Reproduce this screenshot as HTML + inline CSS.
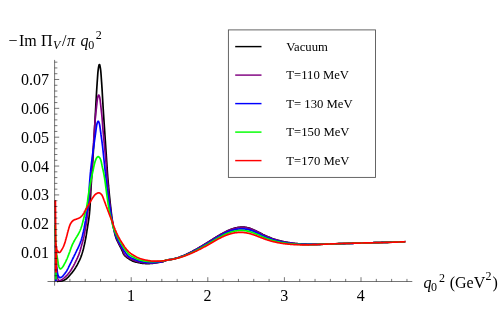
<!DOCTYPE html>
<html><head><meta charset="utf-8"><title>plot</title>
<style>
html,body{margin:0;padding:0;background:#fff;}
body{width:498px;height:312px;position:relative;overflow:hidden;font-family:"Liberation Serif",serif;color:#000;}
svg{position:absolute;left:0;top:0;}
.t{position:absolute;white-space:nowrap;line-height:1;font-size:16px;}
.yl{width:49.1px;text-align:right;left:0;}
.xl{width:20px;text-align:center;}
.lg{font-size:12.7px;left:286.3px;}
.i{font-style:italic;}

</style></head><body>
<svg width="498" height="312" viewBox="0 0 498 312">
<g fill="none" stroke-width="1.7" stroke-linejoin="bevel" stroke-linecap="butt">
<path stroke="#000000" d="M57.00 281.30L57.79 281.28L58.59 281.26L59.39 281.23L60.19 281.19L60.99 281.11L61.79 280.98L62.56 280.81L63.31 280.56L64.05 280.23L64.76 279.86L65.45 279.45L66.11 279.00L66.73 278.51L67.32 277.98L67.88 277.41L68.43 276.82L68.96 276.21L69.49 275.61L70.02 275.01L70.54 274.41L71.07 273.80L71.58 273.19L72.09 272.58L72.58 271.95L73.07 271.32L73.54 270.67L74.01 270.02L74.46 269.36L74.90 268.70L75.33 268.03L75.75 267.35L76.16 266.66L76.57 265.97L76.96 265.28L77.35 264.58L77.72 263.87L78.09 263.16L78.45 262.44L78.79 261.72L79.13 261.00L79.46 260.28L79.79 259.55L80.11 258.81L80.42 258.07L80.72 257.33L81.01 256.59L81.29 255.84L81.57 255.09L81.83 254.33L82.08 253.58L82.31 252.82L82.54 252.05L82.76 251.28L82.97 250.51L83.18 249.74L83.38 248.97L83.57 248.19L83.76 247.41L83.94 246.63L84.12 245.85L84.29 245.07L84.47 244.29L84.64 243.51L84.81 242.73L84.97 241.95L85.14 241.17L85.29 240.39L85.45 239.60L85.60 238.82L85.75 238.03L85.89 237.25L86.03 236.46L86.17 235.67L86.30 234.89L86.42 234.10L86.55 233.31L86.67 232.52L86.80 231.73L86.92 230.94L87.04 230.15L87.16 229.36L87.29 228.57L87.42 227.78L87.54 227.00L87.67 226.21L87.80 225.42L87.93 224.63L88.06 223.84L88.19 223.05L88.31 222.27L88.43 221.48L88.55 220.69L88.66 219.89L88.77 219.10L88.88 218.31L88.99 217.52L89.09 216.73L89.19 215.93L89.28 215.14L89.37 214.35L89.44 213.55L89.52 212.76L89.59 211.96L89.66 211.17L89.72 210.37L89.79 209.58L89.85 208.78L89.90 207.99L89.96 207.19L90.01 206.39L90.06 205.59L90.11 204.80L90.16 204.00L90.21 203.20L90.25 202.40L90.29 201.61L90.34 200.81L90.38 200.01L90.42 199.21L90.46 198.41L90.50 197.62L90.54 196.82L90.58 196.02L90.62 195.22L90.66 194.42L90.70 193.63L90.75 192.83L90.79 192.03L90.83 191.23L90.88 190.43L90.92 189.64L90.97 188.84L91.01 188.04L91.06 187.24L91.11 186.45L91.16 185.65L91.21 184.85L91.26 184.05L91.31 183.26L91.36 182.46L91.41 181.66L91.46 180.86L91.51 180.07L91.56 179.27L91.61 178.47L91.67 177.68L91.72 176.88L91.77 176.08L91.83 175.28L91.88 174.49L91.93 173.69L91.98 172.89L92.04 172.10L92.09 171.30L92.14 170.50L92.20 169.71L92.25 168.91L92.30 168.11L92.36 167.32L92.41 166.52L92.46 165.72L92.51 164.92L92.56 164.13L92.62 163.33L92.67 162.53L92.72 161.74L92.77 160.94L92.82 160.14L92.87 159.35L92.92 158.55L92.97 157.75L93.02 156.96L93.06 156.16L93.11 155.36L93.16 154.57L93.21 153.77L93.25 152.97L93.30 152.17L93.35 151.38L93.39 150.58L93.44 149.78L93.48 148.99L93.53 148.19L93.57 147.39L93.62 146.60L93.66 145.80L93.71 145.00L93.75 144.20L93.80 143.41L93.84 142.61L93.89 141.81L93.93 141.01L93.97 140.22L94.02 139.42L94.06 138.62L94.10 137.82L94.15 137.02L94.19 136.23L94.23 135.43L94.28 134.63L94.32 133.83L94.36 133.03L94.41 132.24L94.45 131.44L94.49 130.64L94.53 129.84L94.58 129.04L94.62 128.24L94.66 127.44L94.71 126.64L94.75 125.84L94.79 125.05L94.83 124.25L94.87 123.45L94.92 122.65L94.96 121.85L95.00 121.05L95.04 120.25L95.09 119.45L95.13 118.65L95.17 117.85L95.21 117.05L95.25 116.26L95.30 115.46L95.34 114.66L95.38 113.86L95.42 113.06L95.46 112.26L95.51 111.47L95.55 110.67L95.59 109.87L95.63 109.07L95.67 108.28L95.72 107.48L95.76 106.68L95.80 105.89L95.84 105.09L95.89 104.30L95.93 103.50L95.97 102.71L96.02 101.91L96.06 101.12L96.10 100.33L96.15 99.53L96.19 98.74L96.23 97.95L96.28 97.15L96.32 96.36L96.36 95.57L96.41 94.77L96.45 93.98L96.50 93.18L96.55 92.38L96.59 91.59L96.64 90.78L96.69 89.98L96.74 89.18L96.79 88.37L96.84 87.56L96.89 86.75L96.95 85.94L97.00 85.13L97.06 84.32L97.11 83.50L97.17 82.70L97.22 81.89L97.28 81.09L97.33 80.29L97.39 79.50L97.45 78.71L97.50 77.93L97.56 77.16L97.61 76.39L97.67 75.64L97.72 74.89L97.77 74.14L97.83 73.39L97.89 72.63L97.96 71.86L98.04 71.07L98.13 70.25L98.24 69.41L98.36 68.53L98.50 67.60L98.68 66.58L98.89 65.59L99.12 64.81L99.35 64.42L99.57 64.56L99.79 65.16L100.01 66.07L100.21 67.10L100.37 68.08L100.50 68.97L100.62 69.83L100.72 70.66L100.80 71.47L100.87 72.25L100.94 73.01L101.00 73.77L101.05 74.52L101.11 75.26L101.16 76.02L101.22 76.77L101.27 77.54L101.33 78.32L101.38 79.10L101.44 79.89L101.49 80.69L101.55 81.49L101.61 82.29L101.66 83.10L101.72 83.91L101.77 84.72L101.83 85.54L101.88 86.35L101.93 87.16L101.98 87.97L102.04 88.78L102.09 89.58L102.13 90.38L102.18 91.18L102.23 91.98L102.27 92.78L102.32 93.58L102.36 94.37L102.41 95.17L102.45 95.96L102.50 96.76L102.54 97.55L102.59 98.34L102.63 99.14L102.68 99.93L102.72 100.72L102.77 101.52L102.82 102.31L102.86 103.11L102.91 103.91L102.96 104.70L103.01 105.50L103.05 106.30L103.10 107.10L103.15 107.89L103.20 108.69L103.25 109.49L103.30 110.29L103.35 111.09L103.40 111.88L103.45 112.68L103.50 113.48L103.55 114.28L103.61 115.08L103.66 115.88L103.71 116.67L103.76 117.47L103.81 118.27L103.87 119.07L103.92 119.86L103.97 120.66L104.03 121.46L104.08 122.25L104.13 123.05L104.19 123.85L104.24 124.64L104.29 125.44L104.35 126.24L104.40 127.03L104.45 127.83L104.51 128.63L104.56 129.42L104.61 130.22L104.67 131.02L104.72 131.81L104.77 132.61L104.83 133.41L104.88 134.20L104.93 135.00L104.99 135.80L105.04 136.60L105.09 137.39L105.15 138.19L105.20 138.99L105.25 139.78L105.30 140.58L105.36 141.38L105.41 142.17L105.46 142.97L105.52 143.77L105.57 144.57L105.62 145.36L105.68 146.16L105.73 146.96L105.78 147.75L105.84 148.55L105.89 149.35L105.94 150.14L106.00 150.94L106.05 151.74L106.10 152.54L106.16 153.33L106.21 154.13L106.26 154.93L106.32 155.72L106.37 156.52L106.42 157.32L106.48 158.11L106.53 158.91L106.58 159.71L106.63 160.51L106.68 161.30L106.74 162.10L106.79 162.90L106.84 163.69L106.89 164.49L106.94 165.29L106.99 166.09L107.04 166.88L107.09 167.68L107.15 168.48L107.20 169.27L107.25 170.07L107.31 170.87L107.36 171.66L107.42 172.46L107.47 173.26L107.53 174.05L107.59 174.85L107.65 175.65L107.71 176.44L107.77 177.24L107.84 178.04L107.90 178.83L107.97 179.63L108.04 180.42L108.10 181.22L108.17 182.02L108.24 182.81L108.31 183.61L108.38 184.40L108.45 185.20L108.53 185.99L108.60 186.79L108.67 187.58L108.75 188.38L108.82 189.18L108.90 189.97L108.97 190.77L109.05 191.56L109.13 192.36L109.20 193.15L109.28 193.95L109.36 194.74L109.44 195.54L109.52 196.33L109.60 197.12L109.68 197.92L109.77 198.71L109.85 199.51L109.93 200.30L110.02 201.10L110.10 201.89L110.18 202.69L110.27 203.48L110.36 204.27L110.44 205.07L110.53 205.86L110.62 206.66L110.71 207.45L110.80 208.24L110.89 209.04L110.98 209.83L111.07 210.62L111.17 211.42L111.26 212.21L111.36 213.00L111.45 213.80L111.55 214.59L111.65 215.38L111.76 216.17L111.86 216.97L111.97 217.76L112.08 218.55L112.20 219.34L112.32 220.13L112.44 220.92L112.57 221.70L112.71 222.49L112.84 223.28L112.98 224.06L113.12 224.85L113.27 225.64L113.41 226.42L113.56 227.21L113.71 227.99L113.85 228.78L114.00 229.57L114.14 230.35L114.29 231.14L114.44 231.93L114.60 232.71L114.77 233.50L114.94 234.27L115.14 235.05L115.35 235.81L115.57 236.57L115.83 237.33L116.10 238.08L116.39 238.82L116.70 239.56L117.03 240.29L117.36 241.02L117.70 241.75L118.05 242.47L118.39 243.19L118.75 243.91L119.11 244.62L119.49 245.32L119.86 246.03L120.23 246.73L120.61 247.44L120.97 248.15L121.34 248.86L121.69 249.58L122.02 250.31L122.35 251.04L122.65 251.80L122.94 252.56L123.25 253.30L123.60 254.02L123.99 254.68L124.45 255.30L124.97 255.88L125.55 256.43L126.17 256.95L126.82 257.45L127.49 257.93L128.17 258.38L128.84 258.83L129.52 259.27L130.20 259.70L130.90 260.11L131.60 260.50L132.31 260.86L133.04 261.18L133.77 261.46L134.52 261.70L135.29 261.91L136.07 262.10L136.86 262.27L137.65 262.43L138.43 262.59L139.22 262.74L140.01 262.90L140.79 263.04L141.58 263.18L142.37 263.30L143.16 263.39L143.95 263.45L144.75 263.51L145.55 263.55L146.35 263.58L147.15 263.60L147.95 263.60L148.75 263.59L149.55 263.56L150.34 263.52L151.14 263.46L151.94 263.39L152.73 263.32L153.52 263.23L154.32 263.13L155.11 263.01L155.90 262.89L156.69 262.76L157.48 262.63L158.27 262.51L159.06 262.40L159.85 262.27L160.64 262.14L161.42 261.98L162.20 261.81L162.96 261.59L163.72 261.33L164.46 261.03L165.21 260.72L165.95 260.42L166.70 260.16L167.47 259.95L168.25 259.79L169.04 259.67L169.83 259.57L170.63 259.46L171.42 259.34L172.20 259.19L172.98 259.02L173.76 258.83L174.53 258.62L175.30 258.41L176.07 258.19L176.83 257.96L177.59 257.72L178.35 257.47L179.11 257.21L179.86 256.95L180.61 256.67L181.36 256.39L182.10 256.10L182.85 255.80L183.58 255.50L184.32 255.18L185.05 254.86L185.78 254.54L186.51 254.21L187.23 253.87L187.96 253.53L188.67 253.18L189.39 252.83L190.11 252.47L190.82 252.11L191.53 251.75L192.24 251.38L192.94 251.00L193.65 250.62L194.35 250.24L195.05 249.86L195.75 249.47L196.44 249.08L197.14 248.68L197.83 248.29L198.52 247.89L199.21 247.49L199.90 247.08L200.59 246.67L201.27 246.27L201.96 245.86L202.64 245.44L203.33 245.03L204.01 244.62L204.69 244.20L205.37 243.78L206.05 243.36L206.73 242.94L207.41 242.52L208.09 242.10L208.77 241.68L209.45 241.26L210.12 240.83L210.80 240.41L211.48 239.99L212.16 239.57L212.83 239.14L213.51 238.72L214.19 238.30L214.87 237.88L215.55 237.46L216.23 237.04L216.91 236.63L217.60 236.21L218.28 235.80L218.97 235.39L219.66 234.99L220.35 234.59L221.04 234.19L221.74 233.80L222.44 233.42L223.14 233.03L223.85 232.66L224.55 232.29L225.27 231.93L225.98 231.57L226.70 231.23L227.42 230.89L228.15 230.56L228.89 230.24L229.62 229.93L230.36 229.63L231.11 229.35L231.86 229.08L232.62 228.82L233.38 228.57L234.14 228.34L234.91 228.13L235.69 227.94L236.47 227.76L237.25 227.59L238.04 227.45L238.83 227.34L239.62 227.26L240.42 227.21L241.22 227.17L242.02 227.14L242.82 227.14L243.62 227.15L244.41 227.21L245.21 227.30L246.00 227.43L246.79 227.57L247.57 227.74L248.34 227.93L249.11 228.15L249.87 228.40L250.63 228.66L251.38 228.94L252.12 229.23L252.86 229.53L253.59 229.85L254.32 230.18L255.05 230.51L255.77 230.85L256.49 231.20L257.21 231.55L257.92 231.90L258.64 232.26L259.35 232.62L260.07 232.98L260.78 233.34L261.49 233.70L262.21 234.05L262.92 234.41L263.64 234.76L264.36 235.10L265.08 235.44L265.81 235.78L266.54 236.11L267.27 236.43L268.00 236.75L268.74 237.05L269.48 237.35L270.22 237.65L270.97 237.93L271.72 238.21L272.47 238.48L273.22 238.74L273.98 239.00L274.74 239.25L275.50 239.49L276.26 239.73L277.03 239.96L277.80 240.18L278.56 240.39L279.34 240.60L280.11 240.80L280.88 241.00L281.66 241.19L282.44 241.37L283.22 241.54L284.00 241.71L284.78 241.87L285.56 242.03L286.35 242.18L287.14 242.32L287.92 242.46L288.71 242.59L289.50 242.71L290.29 242.83L291.08 242.95L291.87 243.06L292.66 243.16L293.46 243.26L294.25 243.35L295.04 243.44L295.84 243.52L296.63 243.60L297.43 243.67L298.22 243.74L299.02 243.81L299.82 243.87L300.61 243.93L301.41 243.98L302.21 244.03L303.00 244.07L303.80 244.11L304.60 244.15L305.40 244.18L306.20 244.21L306.99 244.24L307.79 244.26L308.59 244.28L309.39 244.30L310.19 244.31L310.99 244.32L311.79 244.33L312.58 244.33L313.38 244.33L314.18 244.33L314.98 244.33L315.78 244.33L316.58 244.33L317.38 244.32L318.18 244.31L318.97 244.29L319.77 244.28L320.57 244.27L321.37 244.25L322.17 244.23L322.97 244.21L323.77 244.19L324.56 244.17L325.36 244.15L326.16 244.12L326.96 244.10L327.76 244.08L328.56 244.05L329.35 244.03L330.15 244.00L330.95 243.97L331.75 243.95L332.55 243.92L333.35 243.90L334.14 243.87L334.94 243.85L335.74 243.82L336.54 243.80L337.34 243.77L338.14 243.75L338.93 243.72L339.73 243.70L340.53 243.67L341.33 243.65L342.13 243.63L342.93 243.60L343.72 243.58L344.52 243.55L345.32 243.53L346.12 243.50L346.92 243.48L347.72 243.46L348.52 243.43L349.31 243.41L350.11 243.39L350.91 243.36L351.71 243.34L352.51 243.31L353.31 243.29L354.10 243.27L354.90 243.24L355.70 243.22L356.50 243.20L357.30 243.17L358.10 243.15L358.89 243.13L359.69 243.10L360.49 243.08L361.29 243.06L362.09 243.03L362.89 243.01L363.68 242.99L364.48 242.96L365.28 242.94L366.08 242.92L366.88 242.89L367.68 242.87L368.48 242.85L369.27 242.82L370.07 242.80L370.87 242.78L371.67 242.75L372.47 242.73L373.27 242.71L374.06 242.68L374.86 242.66L375.66 242.64L376.46 242.61L377.26 242.59L378.06 242.57L378.85 242.54L379.65 242.52L380.45 242.49L381.25 242.47L382.05 242.45L382.85 242.42L383.64 242.40L384.44 242.37L385.24 242.35L386.04 242.33L386.84 242.30L387.64 242.28L388.44 242.25L389.23 242.23L390.03 242.20L390.83 242.18L391.63 242.15L392.43 242.13L393.23 242.10L394.02 242.08L394.82 242.05L395.62 242.03L396.42 242.00L397.22 241.98L398.02 241.95L398.81 241.92L399.61 241.90L400.41 241.87L401.21 241.84L402.01 241.82L402.81 241.79L403.60 241.76L404.40 241.74L405.20 241.71L405.20 241.71"/>
<path stroke="#800080" d="M56.10 281.30L56.00 262.00L56.40 268.00L56.48 268.79L56.56 269.56L56.64 270.31L56.73 271.04L56.82 271.77L56.91 272.48L57.00 273.19L57.10 273.90L57.20 274.60L57.31 275.31L57.42 276.03L57.55 276.75L57.69 277.48L57.85 278.22L58.04 278.97L58.30 279.76L58.70 280.34L59.34 280.51L60.12 280.48L60.82 280.23L61.47 279.86L62.09 279.48L62.70 279.05L63.29 278.61L63.87 278.15L64.44 277.67L64.99 277.18L65.53 276.67L66.06 276.15L66.57 275.62L67.08 275.09L67.57 274.54L68.06 273.98L68.53 273.41L68.99 272.83L69.44 272.24L69.88 271.65L70.31 271.05L70.73 270.44L71.14 269.82L71.53 269.20L71.92 268.57L72.30 267.93L72.68 267.30L73.04 266.66L73.40 266.01L73.75 265.36L74.09 264.70L74.43 264.05L74.77 263.39L75.10 262.73L75.42 262.06L75.75 261.40L76.07 260.73L76.39 260.07L76.71 259.40L77.03 258.73L77.34 258.06L77.64 257.38L77.94 256.70L78.22 256.02L78.50 255.34L78.77 254.65L79.02 253.96L79.27 253.27L79.50 252.57L79.73 251.87L79.95 251.16L80.16 250.45L80.37 249.75L80.58 249.03L80.78 248.32L80.98 247.61L81.17 246.89L81.37 246.18L81.56 245.47L81.76 244.75L81.96 244.04L82.15 243.33L82.35 242.62L82.55 241.90L82.75 241.19L82.94 240.48L83.13 239.76L83.32 239.05L83.50 238.33L83.68 237.61L83.85 236.90L84.01 236.18L84.16 235.45L84.30 234.73L84.44 234.00L84.58 233.28L84.71 232.55L84.83 231.82L84.96 231.09L85.08 230.36L85.20 229.64L85.33 228.91L85.46 228.18L85.58 227.45L85.71 226.72L85.84 226.00L85.97 225.27L86.10 224.54L86.22 223.81L86.35 223.08L86.47 222.35L86.58 221.62L86.69 220.89L86.80 220.16L86.90 219.43L87.00 218.70L87.10 217.97L87.20 217.23L87.29 216.50L87.38 215.77L87.47 215.03L87.56 214.30L87.65 213.57L87.74 212.83L87.83 212.10L87.92 211.37L88.01 210.63L88.10 209.90L88.19 209.17L88.28 208.43L88.37 207.70L88.46 206.97L88.55 206.23L88.63 205.50L88.72 204.76L88.81 204.03L88.89 203.30L88.98 202.56L89.06 201.83L89.15 201.09L89.23 200.36L89.31 199.63L89.39 198.89L89.47 198.16L89.55 197.42L89.63 196.69L89.71 195.95L89.79 195.22L89.86 194.48L89.94 193.75L90.01 193.01L90.08 192.28L90.15 191.54L90.22 190.81L90.29 190.07L90.36 189.34L90.43 188.60L90.49 187.86L90.56 187.13L90.62 186.39L90.68 185.66L90.74 184.92L90.81 184.18L90.87 183.45L90.92 182.71L90.98 181.97L91.04 181.24L91.10 180.50L91.15 179.76L91.21 179.03L91.26 178.29L91.32 177.55L91.37 176.82L91.43 176.08L91.48 175.34L91.53 174.60L91.58 173.87L91.63 173.13L91.68 172.39L91.73 171.66L91.78 170.92L91.83 170.18L91.88 169.44L91.93 168.71L91.98 167.97L92.03 167.23L92.08 166.49L92.13 165.76L92.17 165.02L92.22 164.28L92.27 163.54L92.32 162.81L92.37 162.07L92.41 161.33L92.46 160.60L92.51 159.86L92.56 159.12L92.60 158.38L92.65 157.65L92.70 156.91L92.74 156.17L92.79 155.44L92.84 154.70L92.88 153.96L92.93 153.23L92.97 152.49L93.02 151.75L93.06 151.01L93.11 150.28L93.15 149.54L93.20 148.80L93.24 148.07L93.29 147.33L93.33 146.59L93.38 145.85L93.42 145.12L93.47 144.38L93.51 143.64L93.56 142.91L93.61 142.17L93.65 141.43L93.70 140.69L93.74 139.96L93.79 139.22L93.84 138.48L93.88 137.74L93.93 137.01L93.98 136.27L94.03 135.53L94.08 134.79L94.12 134.05L94.17 133.32L94.22 132.58L94.27 131.84L94.32 131.10L94.37 130.36L94.43 129.62L94.48 128.89L94.53 128.15L94.58 127.41L94.64 126.67L94.69 125.93L94.74 125.19L94.80 124.46L94.85 123.72L94.91 122.98L94.97 122.24L95.03 121.51L95.09 120.77L95.15 120.03L95.21 119.30L95.27 118.56L95.34 117.83L95.40 117.09L95.47 116.36L95.54 115.63L95.61 114.90L95.68 114.16L95.76 113.43L95.84 112.70L95.92 111.97L96.00 111.24L96.08 110.50L96.17 109.77L96.25 109.03L96.34 108.29L96.42 107.54L96.50 106.80L96.58 106.05L96.67 105.30L96.75 104.56L96.83 103.82L96.91 103.09L96.99 102.36L97.07 101.65L97.16 100.95L97.24 100.25L97.33 99.55L97.44 98.84L97.57 98.10L97.74 97.33L97.96 96.49L98.25 95.61L98.58 95.05L98.90 95.15L99.23 95.83L99.51 96.72L99.71 97.54L99.87 98.30L99.99 99.03L100.09 99.74L100.18 100.43L100.26 101.13L100.35 101.84L100.43 102.55L100.51 103.28L100.59 104.01L100.67 104.76L100.76 105.50L100.84 106.25L100.92 106.99L101.00 107.74L101.09 108.48L101.17 109.23L101.25 109.96L101.34 110.70L101.42 111.43L101.50 112.17L101.58 112.90L101.66 113.63L101.74 114.36L101.81 115.09L101.88 115.82L101.95 116.56L102.02 117.29L102.08 118.02L102.14 118.76L102.20 119.49L102.26 120.23L102.32 120.97L102.37 121.70L102.43 122.44L102.48 123.18L102.54 123.92L102.59 124.65L102.65 125.39L102.70 126.13L102.75 126.87L102.81 127.61L102.87 128.34L102.93 129.08L102.99 129.82L103.05 130.56L103.11 131.29L103.17 132.03L103.24 132.77L103.30 133.50L103.37 134.24L103.44 134.97L103.50 135.71L103.57 136.45L103.64 137.18L103.71 137.92L103.78 138.65L103.85 139.39L103.93 140.12L104.00 140.86L104.07 141.59L104.14 142.33L104.21 143.06L104.28 143.80L104.35 144.53L104.43 145.27L104.50 146.00L104.57 146.74L104.64 147.47L104.71 148.21L104.78 148.94L104.86 149.68L104.93 150.42L105.00 151.15L105.07 151.89L105.14 152.62L105.21 153.36L105.28 154.09L105.35 154.83L105.42 155.57L105.48 156.30L105.55 157.04L105.61 157.77L105.68 158.51L105.74 159.25L105.80 159.98L105.86 160.72L105.92 161.46L105.97 162.19L106.03 162.93L106.08 163.67L106.13 164.40L106.19 165.14L106.24 165.88L106.29 166.61L106.34 167.35L106.39 168.09L106.44 168.83L106.49 169.56L106.55 170.30L106.60 171.04L106.65 171.77L106.71 172.51L106.76 173.25L106.82 173.98L106.88 174.72L106.94 175.46L107.00 176.19L107.06 176.93L107.12 177.67L107.19 178.40L107.25 179.14L107.32 179.87L107.38 180.61L107.45 181.35L107.52 182.08L107.59 182.82L107.66 183.55L107.73 184.29L107.80 185.02L107.87 185.76L107.95 186.49L108.02 187.23L108.09 187.96L108.17 188.70L108.24 189.43L108.32 190.17L108.39 190.90L108.47 191.64L108.55 192.37L108.62 193.11L108.70 193.84L108.78 194.58L108.86 195.31L108.94 196.05L109.02 196.78L109.10 197.52L109.18 198.25L109.26 198.99L109.34 199.72L109.43 200.46L109.51 201.19L109.60 201.92L109.68 202.66L109.77 203.39L109.86 204.12L109.95 204.86L110.04 205.59L110.13 206.32L110.22 207.06L110.31 207.79L110.41 208.52L110.50 209.26L110.60 209.99L110.70 210.72L110.80 211.45L110.90 212.19L111.00 212.92L111.10 213.65L111.21 214.38L111.32 215.11L111.43 215.84L111.54 216.57L111.65 217.30L111.77 218.03L111.89 218.76L112.01 219.49L112.14 220.22L112.27 220.95L112.40 221.67L112.53 222.40L112.67 223.12L112.81 223.85L112.96 224.58L113.10 225.30L113.26 226.02L113.41 226.75L113.57 227.47L113.73 228.19L113.89 228.91L114.06 229.63L114.23 230.35L114.41 231.07L114.59 231.78L114.78 232.50L114.97 233.21L115.17 233.93L115.37 234.64L115.59 235.34L115.81 236.04L116.05 236.74L116.30 237.44L116.56 238.13L116.83 238.82L117.11 239.50L117.40 240.18L117.71 240.86L118.02 241.53L118.34 242.20L118.67 242.86L119.01 243.52L119.36 244.17L119.73 244.81L120.11 245.45L120.49 246.08L120.88 246.71L121.26 247.35L121.64 247.99L122.00 248.63L122.34 249.29L122.66 249.95L122.96 250.63L123.21 251.32L123.43 252.04L123.65 252.76L123.92 253.43L124.26 254.04L124.68 254.62L125.17 255.16L125.72 255.67L126.31 256.15L126.94 256.60L127.58 257.04L128.22 257.45L128.86 257.84L129.50 258.22L130.15 258.58L130.81 258.92L131.47 259.25L132.14 259.57L132.81 259.87L133.49 260.16L134.17 260.43L134.86 260.69L135.56 260.93L136.26 261.17L136.97 261.39L137.69 261.59L138.40 261.78L139.12 261.95L139.84 262.11L140.57 262.26L141.29 262.39L142.02 262.52L142.75 262.63L143.49 262.72L144.22 262.81L144.95 262.89L145.69 262.96L146.43 263.02L147.17 263.07L147.90 263.10L148.64 263.11L149.38 263.11L150.12 263.10L150.86 263.09L151.60 263.06L152.34 263.03L153.07 262.99L153.81 262.93L154.54 262.84L155.27 262.75L156.01 262.64L156.74 262.54L157.47 262.43L158.21 262.33L158.94 262.24L159.68 262.14L160.41 262.03L161.14 261.91L161.86 261.77L162.58 261.61L163.29 261.40L163.98 261.16L164.68 260.90L165.37 260.63L166.07 260.37L166.77 260.14L167.48 259.95L168.20 259.81L168.93 259.70L169.66 259.60L170.40 259.50L171.13 259.39L171.86 259.26L172.58 259.11L173.30 258.95L174.02 258.77L174.73 258.58L175.45 258.38L176.16 258.18L176.86 257.96L177.57 257.74L178.27 257.51L178.97 257.28L179.67 257.04L180.37 256.79L181.06 256.53L181.75 256.27L182.44 256.00L183.12 255.72L183.80 255.44L184.48 255.15L185.16 254.85L185.84 254.55L186.51 254.25L187.18 253.94L187.85 253.63L188.52 253.31L189.18 252.99L189.85 252.66L190.51 252.33L191.16 251.99L191.82 251.65L192.48 251.31L193.13 250.97L193.78 250.62L194.43 250.27L195.08 249.91L195.73 249.55L196.37 249.19L197.01 248.83L197.66 248.47L198.30 248.10L198.94 247.73L199.58 247.36L200.21 246.98L200.85 246.61L201.49 246.23L202.12 245.85L202.75 245.47L203.39 245.09L204.02 244.71L204.65 244.32L205.28 243.94L205.91 243.55L206.54 243.17L207.17 242.78L207.80 242.39L208.43 242.00L209.05 241.61L209.68 241.22L210.31 240.83L210.94 240.44L211.56 240.05L212.19 239.66L212.82 239.27L213.45 238.88L214.07 238.49L214.70 238.10L215.33 237.72L215.96 237.33L216.59 236.95L217.23 236.56L217.86 236.18L218.49 235.80L219.13 235.43L219.77 235.06L220.41 234.69L221.05 234.32L221.70 233.96L222.34 233.60L222.99 233.25L223.65 232.91L224.30 232.57L224.96 232.23L225.62 231.90L226.29 231.58L226.95 231.26L227.63 230.95L228.30 230.65L228.98 230.36L229.66 230.08L230.35 229.80L231.04 229.54L231.74 229.29L232.44 229.05L233.14 228.82L233.85 228.61L234.56 228.41L235.27 228.22L235.99 228.06L236.72 227.90L237.44 227.75L238.17 227.63L238.90 227.53L239.64 227.46L240.38 227.41L241.11 227.38L241.85 227.36L242.59 227.35L243.33 227.36L244.07 227.39L244.81 227.47L245.54 227.57L246.27 227.69L247.00 227.83L247.72 227.98L248.43 228.17L249.14 228.37L249.85 228.60L250.55 228.84L251.24 229.09L251.94 229.36L252.62 229.63L253.30 229.92L253.98 230.22L254.65 230.52L255.32 230.83L255.99 231.14L256.66 231.46L257.32 231.79L257.99 232.11L258.65 232.44L259.31 232.77L259.97 233.10L260.63 233.43L261.29 233.76L261.95 234.09L262.62 234.42L263.28 234.74L263.95 235.06L264.62 235.37L265.29 235.69L265.96 235.99L266.63 236.29L267.31 236.59L267.99 236.88L268.68 237.16L269.36 237.43L270.05 237.70L270.74 237.97L271.43 238.22L272.13 238.48L272.82 238.72L273.52 238.96L274.22 239.19L274.93 239.42L275.63 239.64L276.34 239.85L277.05 240.06L277.76 240.27L278.47 240.46L279.19 240.65L279.90 240.84L280.62 241.02L281.34 241.19L282.06 241.36L282.78 241.52L283.50 241.68L284.22 241.83L284.95 241.98L285.67 242.12L286.40 242.25L287.13 242.38L287.85 242.51L288.58 242.63L289.31 242.74L290.04 242.86L290.77 242.96L291.51 243.06L292.24 243.16L292.97 243.25L293.71 243.34L294.44 243.42L295.17 243.50L295.91 243.57L296.65 243.64L297.38 243.71L298.12 243.78L298.85 243.83L299.59 243.89L300.33 243.94L301.06 243.99L301.80 244.04L302.54 244.08L303.28 244.12L304.02 244.15L304.75 244.18L305.49 244.21L306.23 244.24L306.97 244.26L307.71 244.28L308.45 244.30L309.19 244.31L309.92 244.33L310.66 244.34L311.40 244.34L312.14 244.34L312.88 244.35L313.62 244.35L314.36 244.35L315.10 244.34L315.84 244.34L316.57 244.34L317.31 244.33L318.05 244.32L318.79 244.30L319.53 244.29L320.27 244.28L321.01 244.26L321.75 244.24L322.48 244.23L323.22 244.21L323.96 244.19L324.70 244.17L325.44 244.15L326.18 244.12L326.92 244.10L327.65 244.08L328.39 244.06L329.13 244.03L329.87 244.01L330.61 243.98L331.35 243.96L332.09 243.94L332.82 243.91L333.56 243.89L334.30 243.86L335.04 243.84L335.78 243.82L336.52 243.79L337.25 243.77L337.99 243.75L338.73 243.72L339.47 243.70L340.21 243.68L340.95 243.66L341.69 243.63L342.42 243.61L343.16 243.59L343.90 243.57L344.64 243.54L345.38 243.52L346.12 243.50L346.86 243.48L347.59 243.46L348.33 243.43L349.07 243.41L349.81 243.39L350.55 243.37L351.29 243.35L352.03 243.32L352.76 243.30L353.50 243.28L354.24 243.26L354.98 243.24L355.72 243.22L356.46 243.20L357.20 243.17L357.93 243.15L358.67 243.13L359.41 243.11L360.15 243.09L360.89 243.07L361.63 243.05L362.37 243.02L363.10 243.00L363.84 242.98L364.58 242.96L365.32 242.94L366.06 242.92L366.80 242.90L367.54 242.88L368.27 242.85L369.01 242.83L369.75 242.81L370.49 242.79L371.23 242.77L371.97 242.75L372.71 242.73L373.44 242.70L374.18 242.68L374.92 242.66L375.66 242.64L376.40 242.62L377.14 242.60L377.88 242.57L378.61 242.55L379.35 242.53L380.09 242.51L380.83 242.49L381.57 242.46L382.31 242.44L383.05 242.42L383.78 242.40L384.52 242.38L385.26 242.35L386.00 242.33L386.74 242.31L387.48 242.29L388.21 242.26L388.95 242.24L389.69 242.22L390.43 242.19L391.17 242.17L391.91 242.15L392.65 242.13L393.38 242.10L394.12 242.08L394.86 242.05L395.60 242.03L396.34 242.01L397.08 241.98L397.82 241.96L398.55 241.93L399.29 241.91L400.03 241.89L400.77 241.86L401.51 241.84L402.25 241.81L402.98 241.79L403.72 241.76L404.46 241.74L405.20 241.71L405.20 241.71"/>
<path stroke="#0000ff" d="M55.85 281.30L55.85 255.00L55.60 245.00L55.90 255.00L55.92 255.66L55.95 256.33L55.98 257.00L56.01 257.68L56.04 258.36L56.08 259.04L56.12 259.73L56.16 260.42L56.20 261.11L56.25 261.80L56.30 262.49L56.35 263.18L56.41 263.87L56.46 264.57L56.52 265.26L56.59 265.95L56.65 266.64L56.73 267.33L56.81 268.01L56.89 268.69L56.98 269.37L57.07 270.04L57.17 270.71L57.28 271.38L57.39 272.04L57.51 272.70L57.65 273.36L57.80 274.04L57.98 274.71L58.20 275.40L58.47 276.15L58.81 276.85L59.24 277.38L59.75 277.61L60.43 277.55L61.11 277.36L61.70 277.01L62.23 276.56L62.72 276.09L63.18 275.59L63.62 275.06L64.05 274.52L64.47 273.97L64.89 273.43L65.31 272.88L65.72 272.33L66.12 271.78L66.49 271.21L66.85 270.63L67.19 270.04L67.52 269.44L67.83 268.83L68.14 268.21L68.44 267.59L68.73 266.97L69.03 266.35L69.33 265.74L69.63 265.12L69.93 264.51L70.24 263.89L70.54 263.28L70.84 262.66L71.15 262.05L71.45 261.43L71.75 260.82L72.05 260.21L72.36 259.59L72.66 258.98L72.96 258.36L73.26 257.75L73.56 257.13L73.86 256.51L74.15 255.90L74.45 255.28L74.75 254.66L75.05 254.05L75.35 253.43L75.64 252.81L75.94 252.20L76.25 251.58L76.55 250.97L76.85 250.35L77.15 249.74L77.46 249.12L77.75 248.51L78.05 247.89L78.33 247.27L78.62 246.64L78.89 246.02L79.16 245.39L79.43 244.76L79.69 244.12L79.95 243.49L80.20 242.85L80.44 242.21L80.68 241.56L80.91 240.92L81.13 240.27L81.34 239.62L81.54 238.96L81.74 238.31L81.92 237.65L82.10 236.99L82.27 236.32L82.44 235.66L82.60 234.99L82.76 234.33L82.92 233.66L83.07 232.99L83.22 232.32L83.37 231.65L83.51 230.99L83.65 230.32L83.79 229.64L83.93 228.97L84.06 228.30L84.20 227.63L84.33 226.96L84.46 226.29L84.59 225.61L84.72 224.94L84.84 224.27L84.97 223.59L85.09 222.92L85.21 222.24L85.32 221.57L85.44 220.89L85.55 220.22L85.65 219.54L85.75 218.86L85.86 218.19L85.95 217.51L86.05 216.83L86.16 216.15L86.26 215.48L86.37 214.80L86.48 214.12L86.60 213.45L86.72 212.78L86.86 212.10L86.99 211.43L87.13 210.76L87.26 210.09L87.39 209.41L87.52 208.74L87.64 208.07L87.74 207.39L87.84 206.72L87.93 206.04L88.01 205.36L88.09 204.68L88.16 204.00L88.23 203.32L88.29 202.64L88.35 201.96L88.41 201.27L88.46 200.59L88.51 199.91L88.56 199.22L88.60 198.54L88.65 197.85L88.69 197.17L88.73 196.48L88.77 195.80L88.81 195.11L88.85 194.43L88.89 193.75L88.93 193.06L88.98 192.38L89.02 191.69L89.06 191.01L89.11 190.32L89.15 189.64L89.20 188.96L89.24 188.27L89.29 187.59L89.33 186.91L89.38 186.22L89.42 185.54L89.47 184.86L89.52 184.17L89.57 183.49L89.61 182.81L89.66 182.12L89.71 181.44L89.76 180.76L89.82 180.08L89.87 179.39L89.92 178.71L89.98 178.03L90.03 177.35L90.09 176.66L90.14 175.98L90.20 175.30L90.26 174.62L90.32 173.93L90.38 173.25L90.45 172.57L90.51 171.89L90.58 171.21L90.65 170.52L90.72 169.84L90.79 169.16L90.87 168.48L90.94 167.80L91.02 167.12L91.10 166.44L91.18 165.76L91.27 165.08L91.35 164.40L91.43 163.72L91.52 163.04L91.60 162.36L91.69 161.68L91.77 161.00L91.86 160.32L91.94 159.64L92.03 158.96L92.12 158.28L92.20 157.60L92.29 156.93L92.38 156.25L92.46 155.57L92.55 154.89L92.64 154.21L92.73 153.53L92.82 152.85L92.91 152.17L93.00 151.49L93.09 150.81L93.18 150.13L93.27 149.46L93.37 148.78L93.46 148.10L93.56 147.42L93.65 146.74L93.75 146.06L93.85 145.39L93.94 144.71L94.04 144.03L94.13 143.36L94.23 142.68L94.33 142.01L94.43 141.33L94.52 140.66L94.62 139.98L94.72 139.31L94.82 138.63L94.91 137.95L95.01 137.27L95.11 136.59L95.20 135.91L95.30 135.23L95.40 134.54L95.49 133.86L95.59 133.17L95.68 132.48L95.77 131.79L95.86 131.10L95.95 130.41L96.04 129.73L96.13 129.05L96.22 128.38L96.31 127.72L96.40 127.07L96.50 126.42L96.59 125.77L96.70 125.12L96.84 124.45L97.00 123.76L97.20 123.05L97.48 122.26L97.82 121.54L98.18 121.20L98.54 121.47L98.88 122.17L99.17 122.96L99.38 123.68L99.55 124.37L99.68 125.04L99.80 125.70L99.89 126.35L99.99 127.00L100.08 127.65L100.17 128.31L100.26 128.98L100.35 129.65L100.44 130.33L100.53 131.02L100.62 131.71L100.71 132.40L100.81 133.09L100.90 133.78L100.99 134.47L101.09 135.15L101.18 135.84L101.28 136.52L101.37 137.20L101.46 137.88L101.56 138.56L101.65 139.24L101.74 139.91L101.83 140.59L101.92 141.27L102.01 141.94L102.10 142.62L102.19 143.29L102.27 143.97L102.36 144.65L102.44 145.32L102.52 146.00L102.60 146.68L102.68 147.36L102.75 148.04L102.83 148.72L102.90 149.40L102.97 150.08L103.05 150.76L103.12 151.44L103.19 152.12L103.26 152.80L103.33 153.48L103.40 154.17L103.47 154.85L103.54 155.53L103.61 156.21L103.68 156.90L103.75 157.58L103.82 158.26L103.89 158.94L103.96 159.63L104.03 160.31L104.10 160.99L104.18 161.67L104.25 162.35L104.32 163.03L104.39 163.72L104.46 164.40L104.54 165.08L104.61 165.76L104.68 166.44L104.75 167.12L104.83 167.80L104.90 168.48L104.97 169.16L105.04 169.84L105.12 170.53L105.19 171.21L105.26 171.89L105.34 172.57L105.41 173.25L105.48 173.93L105.56 174.61L105.63 175.29L105.71 175.97L105.78 176.65L105.85 177.33L105.92 178.01L106.00 178.69L106.07 179.38L106.15 180.06L106.22 180.74L106.29 181.42L106.37 182.10L106.44 182.78L106.52 183.46L106.60 184.14L106.67 184.82L106.75 185.50L106.83 186.18L106.91 186.86L106.99 187.54L107.08 188.22L107.16 188.90L107.25 189.58L107.33 190.26L107.42 190.94L107.51 191.62L107.60 192.30L107.70 192.98L107.79 193.65L107.89 194.33L107.98 195.01L108.08 195.69L108.18 196.37L108.28 197.04L108.38 197.72L108.48 198.40L108.59 199.08L108.69 199.75L108.79 200.43L108.90 201.11L109.00 201.78L109.11 202.46L109.22 203.14L109.32 203.81L109.43 204.49L109.54 205.17L109.64 205.84L109.75 206.52L109.86 207.20L109.96 207.87L110.07 208.55L110.18 209.23L110.28 209.90L110.39 210.58L110.50 211.26L110.60 211.93L110.71 212.61L110.81 213.29L110.92 213.96L111.03 214.64L111.13 215.32L111.24 215.99L111.35 216.67L111.46 217.35L111.57 218.02L111.68 218.70L111.79 219.37L111.91 220.05L112.02 220.72L112.14 221.40L112.26 222.08L112.38 222.75L112.50 223.43L112.63 224.10L112.76 224.77L112.89 225.45L113.03 226.12L113.18 226.78L113.34 227.45L113.50 228.11L113.67 228.77L113.86 229.43L114.05 230.09L114.25 230.74L114.47 231.39L114.69 232.04L114.92 232.69L115.15 233.34L115.40 233.98L115.64 234.62L115.90 235.25L116.15 235.89L116.42 236.52L116.69 237.15L116.96 237.78L117.25 238.40L117.53 239.03L117.83 239.64L118.13 240.26L118.43 240.88L118.74 241.49L119.06 242.10L119.38 242.70L119.70 243.31L120.02 243.91L120.35 244.51L120.68 245.10L121.02 245.70L121.36 246.29L121.70 246.88L122.05 247.47L122.41 248.06L122.77 248.64L123.14 249.22L123.51 249.80L123.88 250.38L124.26 250.95L124.65 251.52L125.04 252.09L125.44 252.67L125.85 253.24L126.27 253.79L126.71 254.34L127.16 254.86L127.62 255.36L128.11 255.82L128.61 256.26L129.15 256.65L129.71 257.02L130.30 257.36L130.91 257.68L131.53 257.98L132.17 258.27L132.80 258.55L133.44 258.83L134.07 259.10L134.70 259.37L135.33 259.64L135.97 259.90L136.61 260.15L137.25 260.39L137.90 260.61L138.55 260.81L139.20 261.00L139.86 261.18L140.53 261.34L141.20 261.50L141.87 261.64L142.54 261.77L143.22 261.89L143.89 262.00L144.57 262.10L145.25 262.20L145.93 262.29L146.61 262.37L147.29 262.44L147.97 262.49L148.66 262.53L149.34 262.56L150.03 262.59L150.71 262.61L151.40 262.61L152.08 262.61L152.77 262.60L153.45 262.58L154.13 262.53L154.81 262.46L155.49 262.38L156.18 262.29L156.86 262.20L157.54 262.12L158.22 262.04L158.90 261.96L159.58 261.88L160.26 261.80L160.94 261.70L161.62 261.59L162.29 261.47L162.95 261.32L163.61 261.14L164.27 260.93L164.92 260.72L165.57 260.50L166.23 260.30L166.89 260.11L167.55 259.96L168.23 259.84L168.90 259.74L169.58 259.65L170.26 259.56L170.94 259.47L171.62 259.36L172.29 259.23L172.96 259.09L173.63 258.93L174.30 258.77L174.96 258.60L175.62 258.42L176.28 258.24L176.94 258.05L177.60 257.86L178.25 257.66L178.91 257.45L179.56 257.24L180.20 257.02L180.85 256.79L181.50 256.56L182.14 256.32L182.78 256.08L183.42 255.83L184.05 255.57L184.69 255.32L185.32 255.05L185.95 254.79L186.58 254.52L187.21 254.24L187.83 253.96L188.46 253.68L189.08 253.39L189.70 253.10L190.32 252.80L190.93 252.51L191.55 252.21L192.16 251.90L192.77 251.59L193.38 251.28L193.99 250.97L194.60 250.65L195.21 250.34L195.81 250.01L196.42 249.69L197.02 249.37L197.62 249.04L198.22 248.71L198.82 248.38L199.42 248.04L200.01 247.71L200.61 247.37L201.21 247.03L201.80 246.69L202.39 246.35L202.98 246.00L203.58 245.66L204.17 245.31L204.76 244.96L205.35 244.61L205.94 244.26L206.52 243.91L207.11 243.56L207.70 243.21L208.29 242.86L208.87 242.50L209.46 242.15L210.04 241.79L210.63 241.44L211.22 241.08L211.80 240.73L212.39 240.37L212.97 240.01L213.55 239.66L214.14 239.30L214.73 238.95L215.31 238.59L215.90 238.24L216.49 237.89L217.08 237.54L217.67 237.19L218.26 236.84L218.85 236.50L219.44 236.16L220.04 235.83L220.64 235.49L221.24 235.16L221.84 234.84L222.45 234.52L223.06 234.20L223.67 233.89L224.28 233.58L224.90 233.28L225.51 232.99L226.14 232.70L226.76 232.42L227.39 232.15L228.02 231.88L228.65 231.62L229.29 231.37L229.93 231.13L230.58 230.90L231.23 230.68L231.88 230.46L232.53 230.26L233.19 230.07L233.85 229.89L234.52 229.72L235.18 229.56L235.85 229.43L236.53 229.29L237.20 229.17L237.88 229.07L238.56 228.98L239.24 228.92L239.92 228.88L240.61 228.86L241.29 228.84L241.98 228.83L242.67 228.84L243.35 228.85L244.03 228.89L244.71 228.95L245.40 229.05L246.07 229.16L246.75 229.28L247.42 229.42L248.09 229.57L248.75 229.74L249.41 229.93L250.06 230.14L250.71 230.36L251.36 230.58L252.01 230.81L252.65 231.06L253.28 231.31L253.92 231.57L254.55 231.84L255.18 232.11L255.80 232.38L256.43 232.66L257.05 232.94L257.68 233.23L258.30 233.52L258.92 233.81L259.54 234.10L260.16 234.39L260.78 234.68L261.40 234.97L262.02 235.26L262.64 235.54L263.27 235.82L263.89 236.10L264.52 236.38L265.15 236.65L265.78 236.92L266.41 237.19L267.04 237.45L267.68 237.70L268.32 237.95L268.96 238.19L269.60 238.43L270.25 238.66L270.89 238.89L271.54 239.11L272.19 239.32L272.84 239.53L273.50 239.74L274.15 239.94L274.81 240.14L275.46 240.33L276.12 240.51L276.78 240.69L277.45 240.87L278.11 241.04L278.78 241.20L279.44 241.36L280.11 241.52L280.78 241.67L281.45 241.81L282.12 241.95L282.79 242.09L283.46 242.22L284.13 242.35L284.81 242.47L285.48 242.59L286.16 242.70L286.83 242.81L287.51 242.92L288.19 243.02L288.87 243.11L289.54 243.21L290.22 243.29L290.90 243.38L291.58 243.46L292.26 243.54L292.95 243.61L293.63 243.68L294.31 243.75L294.99 243.81L295.67 243.87L296.36 243.92L297.04 243.98L297.72 244.03L298.40 244.07L299.09 244.12L299.77 244.16L300.46 244.20L301.14 244.23L301.82 244.26L302.51 244.29L303.19 244.32L303.88 244.34L304.56 244.36L305.25 244.38L305.93 244.40L306.62 244.42L307.30 244.43L307.99 244.43L308.67 244.44L309.36 244.45L310.04 244.45L310.73 244.45L311.41 244.45L312.09 244.45L312.78 244.45L313.46 244.44L314.15 244.44L314.83 244.43L315.52 244.42L316.20 244.41L316.89 244.39L317.57 244.38L318.26 244.37L318.94 244.35L319.63 244.33L320.31 244.31L321.00 244.29L321.68 244.27L322.37 244.25L323.05 244.23L323.74 244.21L324.42 244.19L325.10 244.17L325.79 244.14L326.47 244.12L327.16 244.09L327.84 244.07L328.53 244.04L329.21 244.02L329.90 244.00L330.58 243.97L331.26 243.95L331.95 243.92L332.63 243.90L333.32 243.87L334.00 243.85L334.69 243.83L335.37 243.80L336.06 243.78L336.74 243.76L337.43 243.73L338.11 243.71L338.79 243.69L339.48 243.67L340.16 243.65L340.85 243.63L341.53 243.60L342.22 243.58L342.90 243.56L343.59 243.54L344.27 243.52L344.96 243.50L345.64 243.48L346.32 243.46L347.01 243.44L347.69 243.42L348.38 243.40L349.06 243.38L349.75 243.36L350.43 243.34L351.12 243.32L351.80 243.30L352.49 243.28L353.17 243.26L353.86 243.24L354.54 243.23L355.22 243.21L355.91 243.19L356.59 243.17L357.28 243.15L357.96 243.13L358.65 243.11L359.33 243.10L360.02 243.08L360.70 243.06L361.39 243.04L362.07 243.02L362.76 243.00L363.44 242.99L364.13 242.97L364.81 242.95L365.49 242.93L366.18 242.91L366.86 242.90L367.55 242.88L368.23 242.86L368.92 242.84L369.60 242.82L370.29 242.80L370.97 242.79L371.66 242.77L372.34 242.75L373.03 242.73L373.71 242.71L374.40 242.69L375.08 242.67L375.76 242.66L376.45 242.64L377.13 242.62L377.82 242.60L378.50 242.58L379.19 242.56L379.87 242.54L380.56 242.52L381.24 242.50L381.93 242.48L382.61 242.46L383.30 242.44L383.98 242.42L384.66 242.40L385.35 242.38L386.03 242.36L386.72 242.34L387.40 242.32L388.09 242.30L388.77 242.28L389.46 242.26L390.14 242.24L390.83 242.21L391.51 242.19L392.20 242.17L392.88 242.15L393.56 242.13L394.25 242.10L394.93 242.08L395.62 242.06L396.30 242.03L396.99 242.01L397.67 241.99L398.36 241.96L399.04 241.94L399.72 241.91L400.41 241.89L401.09 241.86L401.78 241.84L402.46 241.81L403.15 241.79L403.83 241.76L404.52 241.74L405.20 241.71L405.20 241.71"/>
<path stroke="#00ff00" d="M55.95 279.60L55.95 252.00L55.70 245.00L55.30 225.00L55.60 240.00L55.61 240.61L55.62 241.22L55.63 241.82L55.65 242.43L55.66 243.03L55.69 243.63L55.71 244.23L55.74 244.83L55.77 245.43L55.80 246.03L55.84 246.63L55.87 247.22L55.91 247.82L55.96 248.42L56.00 249.01L56.05 249.61L56.11 250.20L56.17 250.80L56.25 251.39L56.32 251.99L56.41 252.59L56.49 253.18L56.59 253.78L56.68 254.38L56.78 254.98L56.89 255.58L57.00 256.17L57.11 256.77L57.22 257.36L57.34 257.95L57.45 258.54L57.55 259.12L57.65 259.70L57.74 260.27L57.82 260.84L57.90 261.42L57.98 262.00L58.06 262.58L58.15 263.17L58.26 263.77L58.37 264.37L58.50 264.99L58.65 265.62L58.83 266.28L59.05 266.98L59.32 267.67L59.62 268.27L59.96 268.70L60.33 268.89L60.76 268.81L61.25 268.49L61.75 268.03L62.22 267.51L62.62 267.02L62.98 266.52L63.31 266.01L63.60 265.49L63.89 264.97L64.17 264.45L64.45 263.93L64.74 263.41L65.02 262.88L65.29 262.34L65.57 261.80L65.83 261.26L66.10 260.71L66.35 260.16L66.60 259.61L66.85 259.06L67.09 258.51L67.32 257.96L67.55 257.40L67.78 256.84L68.00 256.29L68.22 255.73L68.44 255.17L68.66 254.61L68.87 254.05L69.08 253.48L69.29 252.92L69.50 252.36L69.71 251.79L69.91 251.23L70.11 250.66L70.31 250.09L70.51 249.52L70.71 248.95L70.91 248.39L71.11 247.82L71.32 247.26L71.54 246.69L71.76 246.13L71.98 245.58L72.21 245.02L72.46 244.48L72.71 243.93L72.97 243.39L73.23 242.85L73.51 242.32L73.79 241.78L74.08 241.25L74.37 240.73L74.67 240.20L74.96 239.68L75.27 239.16L75.57 238.64L75.88 238.13L76.20 237.61L76.52 237.10L76.84 236.59L77.15 236.08L77.47 235.57L77.77 235.05L78.07 234.53L78.36 234.00L78.64 233.47L78.92 232.94L79.19 232.40L79.45 231.86L79.70 231.31L79.95 230.76L80.18 230.21L80.41 229.65L80.63 229.09L80.84 228.53L81.04 227.96L81.24 227.39L81.43 226.82L81.61 226.25L81.79 225.67L81.95 225.10L82.12 224.52L82.28 223.94L82.43 223.36L82.59 222.78L82.74 222.19L82.89 221.61L83.04 221.03L83.19 220.45L83.34 219.86L83.49 219.28L83.64 218.70L83.79 218.12L83.94 217.54L84.09 216.95L84.24 216.37L84.39 215.79L84.55 215.21L84.70 214.63L84.85 214.04L85.01 213.46L85.17 212.88L85.33 212.30L85.49 211.72L85.64 211.14L85.79 210.56L85.94 209.97L86.09 209.39L86.22 208.81L86.35 208.22L86.48 207.63L86.59 207.04L86.71 206.46L86.82 205.87L86.92 205.27L87.02 204.68L87.12 204.09L87.22 203.50L87.31 202.90L87.40 202.31L87.49 201.71L87.57 201.12L87.66 200.52L87.74 199.92L87.82 199.33L87.90 198.73L87.98 198.13L88.06 197.54L88.14 196.94L88.22 196.34L88.30 195.75L88.39 195.15L88.47 194.55L88.56 193.96L88.65 193.36L88.74 192.77L88.83 192.17L88.92 191.58L89.01 190.99L89.11 190.39L89.20 189.80L89.30 189.20L89.40 188.61L89.50 188.02L89.60 187.42L89.70 186.83L89.80 186.24L89.91 185.65L90.01 185.05L90.12 184.46L90.23 183.87L90.34 183.28L90.45 182.69L90.56 182.10L90.67 181.51L90.79 180.92L90.91 180.33L91.03 179.74L91.15 179.15L91.27 178.56L91.40 177.97L91.52 177.39L91.65 176.80L91.78 176.21L91.92 175.62L92.05 175.04L92.18 174.45L92.32 173.86L92.45 173.28L92.58 172.69L92.71 172.10L92.83 171.52L92.96 170.93L93.08 170.34L93.20 169.75L93.31 169.16L93.43 168.57L93.55 167.98L93.66 167.39L93.78 166.80L93.91 166.22L94.04 165.63L94.17 165.04L94.31 164.45L94.46 163.87L94.61 163.28L94.77 162.70L94.93 162.11L95.10 161.53L95.29 160.96L95.48 160.40L95.68 159.84L95.90 159.29L96.15 158.73L96.43 158.20L96.77 157.69L97.16 157.22L97.66 156.80L98.19 156.60L98.72 156.79L99.22 157.21L99.63 157.68L99.97 158.18L100.26 158.72L100.50 159.27L100.71 159.83L100.89 160.39L101.05 160.96L101.20 161.54L101.34 162.12L101.46 162.71L101.58 163.31L101.70 163.91L101.82 164.50L101.94 165.10L102.06 165.69L102.19 166.28L102.32 166.87L102.45 167.45L102.59 168.04L102.72 168.63L102.85 169.21L102.98 169.80L103.11 170.38L103.24 170.97L103.37 171.56L103.49 172.15L103.61 172.73L103.72 173.32L103.84 173.91L103.95 174.50L104.06 175.10L104.17 175.69L104.27 176.28L104.37 176.87L104.47 177.47L104.57 178.06L104.66 178.66L104.75 179.25L104.84 179.84L104.93 180.44L105.02 181.03L105.10 181.63L105.18 182.23L105.26 182.82L105.34 183.42L105.42 184.01L105.50 184.61L105.58 185.21L105.65 185.80L105.73 186.40L105.81 187.00L105.89 187.59L105.96 188.19L106.04 188.78L106.12 189.38L106.20 189.98L106.28 190.57L106.36 191.17L106.44 191.77L106.51 192.36L106.59 192.96L106.67 193.55L106.75 194.15L106.83 194.75L106.91 195.34L106.99 195.94L107.07 196.53L107.16 197.13L107.24 197.73L107.32 198.32L107.40 198.92L107.49 199.51L107.57 200.11L107.66 200.70L107.74 201.30L107.83 201.89L107.92 202.49L108.01 203.08L108.10 203.68L108.19 204.27L108.28 204.87L108.38 205.46L108.47 206.05L108.57 206.65L108.67 207.24L108.77 207.83L108.87 208.42L108.98 209.02L109.09 209.61L109.20 210.20L109.31 210.79L109.43 211.38L109.55 211.97L109.67 212.56L109.80 213.15L109.94 213.73L110.08 214.32L110.22 214.90L110.38 215.48L110.54 216.06L110.70 216.64L110.86 217.22L111.02 217.80L111.18 218.38L111.34 218.96L111.49 219.54L111.63 220.13L111.77 220.71L111.89 221.30L112.02 221.89L112.14 222.48L112.26 223.08L112.38 223.67L112.50 224.26L112.63 224.85L112.76 225.43L112.90 226.02L113.04 226.60L113.20 227.17L113.37 227.74L113.56 228.31L113.76 228.87L113.97 229.43L114.20 229.99L114.43 230.54L114.67 231.09L114.93 231.64L115.18 232.19L115.45 232.73L115.72 233.27L115.99 233.82L116.26 234.36L116.54 234.89L116.81 235.43L117.08 235.97L117.36 236.51L117.63 237.04L117.91 237.58L118.19 238.11L118.47 238.64L118.75 239.17L119.04 239.70L119.33 240.23L119.62 240.76L119.91 241.28L120.21 241.81L120.51 242.33L120.81 242.84L121.12 243.36L121.43 243.87L121.74 244.38L122.06 244.89L122.38 245.40L122.70 245.91L123.03 246.41L123.36 246.91L123.69 247.41L124.03 247.91L124.37 248.41L124.71 248.90L125.06 249.40L125.41 249.89L125.76 250.38L126.11 250.87L126.46 251.36L126.82 251.86L127.18 252.35L127.55 252.83L127.93 253.30L128.33 253.74L128.75 254.15L129.19 254.54L129.66 254.90L130.15 255.25L130.65 255.57L131.17 255.89L131.70 256.19L132.24 256.48L132.78 256.77L133.32 257.05L133.85 257.33L134.39 257.61L134.92 257.89L135.46 258.16L136.00 258.43L136.55 258.69L137.09 258.94L137.65 259.17L138.20 259.39L138.76 259.59L139.33 259.78L139.90 259.96L140.48 260.13L141.06 260.29L141.65 260.44L142.24 260.58L142.83 260.71L143.42 260.82L144.01 260.93L144.60 261.04L145.19 261.14L145.79 261.23L146.38 261.31L146.98 261.39L147.58 261.45L148.18 261.51L148.78 261.55L149.38 261.59L149.98 261.63L150.58 261.66L151.18 261.68L151.78 261.70L152.38 261.70L152.98 261.70L153.59 261.68L154.19 261.66L154.79 261.62L155.39 261.58L155.99 261.53L156.59 261.48L157.19 261.44L157.79 261.39L158.39 261.36L158.99 261.32L159.59 261.28L160.19 261.24L160.79 261.19L161.39 261.14L161.99 261.08L162.58 261.00L163.17 260.91L163.76 260.80L164.35 260.68L164.94 260.55L165.53 260.41L166.11 260.28L166.70 260.15L167.29 260.04L167.89 259.94L168.48 259.85L169.08 259.77L169.67 259.70L170.27 259.62L170.87 259.53L171.46 259.44L172.05 259.33L172.64 259.22L173.23 259.10L173.82 258.97L174.40 258.83L174.99 258.69L175.57 258.54L176.15 258.39L176.74 258.24L177.32 258.08L177.89 257.91L178.47 257.74L179.05 257.57L179.62 257.39L180.19 257.21L180.76 257.02L181.33 256.82L181.90 256.63L182.47 256.43L183.04 256.22L183.60 256.01L184.16 255.80L184.72 255.59L185.28 255.37L185.84 255.14L186.40 254.92L186.96 254.69L187.51 254.46L188.06 254.22L188.62 253.98L189.17 253.74L189.72 253.50L190.26 253.25L190.81 253.00L191.36 252.75L191.90 252.49L192.44 252.24L192.99 251.98L193.53 251.71L194.07 251.45L194.61 251.18L195.15 250.91L195.68 250.64L196.22 250.37L196.75 250.10L197.29 249.82L197.82 249.54L198.35 249.26L198.88 248.98L199.42 248.70L199.95 248.41L200.47 248.13L201.00 247.84L201.53 247.55L202.06 247.26L202.58 246.97L203.11 246.67L203.63 246.38L204.15 246.09L204.68 245.79L205.20 245.49L205.72 245.19L206.24 244.89L206.76 244.59L207.29 244.29L207.81 243.99L208.32 243.69L208.84 243.38L209.36 243.08L209.88 242.77L210.40 242.47L210.92 242.16L211.43 241.85L211.95 241.55L212.47 241.24L212.98 240.93L213.50 240.62L214.02 240.32L214.53 240.01L215.05 239.70L215.57 239.40L216.09 239.09L216.61 238.79L217.13 238.49L217.65 238.19L218.17 237.89L218.69 237.59L219.22 237.30L219.75 237.01L220.27 236.72L220.80 236.44L221.34 236.16L221.87 235.88L222.41 235.61L222.94 235.34L223.48 235.08L224.03 234.82L224.57 234.56L225.12 234.31L225.67 234.07L226.22 233.83L226.78 233.60L227.33 233.37L227.89 233.15L228.46 232.94L229.02 232.73L229.59 232.53L230.16 232.34L230.73 232.15L231.31 231.98L231.88 231.81L232.46 231.65L233.05 231.50L233.63 231.36L234.22 231.22L234.81 231.10L235.40 230.99L235.99 230.88L236.58 230.79L237.18 230.70L237.78 230.62L238.38 230.55L238.97 230.51L239.57 230.49L240.18 230.47L240.78 230.46L241.38 230.46L241.98 230.47L242.58 230.48L243.18 230.50L243.78 230.53L244.38 230.58L244.98 230.65L245.58 230.74L246.17 230.84L246.76 230.95L247.35 231.07L247.94 231.19L248.52 231.33L249.11 231.49L249.68 231.65L250.26 231.83L250.84 232.01L251.41 232.19L251.98 232.38L252.54 232.58L253.11 232.79L253.67 233.00L254.23 233.22L254.79 233.44L255.35 233.67L255.91 233.89L256.46 234.12L257.02 234.36L257.57 234.59L258.12 234.83L258.68 235.07L259.23 235.30L259.78 235.54L260.33 235.78L260.89 236.02L261.44 236.26L261.99 236.49L262.54 236.73L263.10 236.96L263.65 237.19L264.21 237.42L264.77 237.64L265.33 237.87L265.89 238.09L266.45 238.30L267.01 238.51L267.58 238.72L268.14 238.92L268.71 239.12L269.28 239.31L269.85 239.50L270.42 239.69L271.00 239.87L271.57 240.05L272.15 240.22L272.72 240.39L273.30 240.56L273.88 240.72L274.46 240.88L275.04 241.03L275.62 241.18L276.21 241.33L276.79 241.47L277.38 241.61L277.96 241.75L278.55 241.88L279.14 242.01L279.72 242.13L280.31 242.25L280.90 242.37L281.49 242.48L282.09 242.59L282.68 242.70L283.27 242.80L283.86 242.90L284.46 242.99L285.05 243.08L285.65 243.17L286.24 243.26L286.84 243.34L287.43 243.42L288.03 243.50L288.63 243.57L289.22 243.64L289.82 243.71L290.42 243.77L291.02 243.83L291.62 243.89L292.21 243.95L292.81 244.00L293.41 244.05L294.01 244.10L294.61 244.15L295.21 244.19L295.81 244.23L296.41 244.27L297.01 244.30L297.61 244.34L298.21 244.37L298.81 244.40L299.41 244.43L300.02 244.45L300.62 244.47L301.22 244.49L301.82 244.51L302.42 244.53L303.02 244.55L303.62 244.56L304.22 244.57L304.82 244.58L305.43 244.59L306.03 244.59L306.63 244.60L307.23 244.60L307.83 244.60L308.43 244.60L309.03 244.60L309.63 244.59L310.24 244.59L310.84 244.58L311.44 244.58L312.04 244.57L312.64 244.56L313.24 244.55L313.84 244.54L314.44 244.53L315.05 244.51L315.65 244.50L316.25 244.48L316.85 244.47L317.45 244.45L318.05 244.43L318.65 244.41L319.25 244.39L319.85 244.37L320.46 244.35L321.06 244.33L321.66 244.31L322.26 244.29L322.86 244.26L323.46 244.24L324.06 244.22L324.66 244.19L325.26 244.17L325.86 244.15L326.46 244.12L327.07 244.10L327.67 244.07L328.27 244.05L328.87 244.02L329.47 244.00L330.07 243.98L330.67 243.95L331.27 243.93L331.87 243.90L332.47 243.88L333.07 243.86L333.67 243.84L334.28 243.81L334.88 243.79L335.48 243.77L336.08 243.75L336.68 243.73L337.28 243.71L337.88 243.69L338.48 243.67L339.08 243.65L339.68 243.63L340.29 243.61L340.89 243.59L341.49 243.57L342.09 243.55L342.69 243.53L343.29 243.51L343.89 243.49L344.49 243.47L345.09 243.46L345.69 243.44L346.30 243.42L346.90 243.40L347.50 243.39L348.10 243.37L348.70 243.35L349.30 243.34L349.90 243.32L350.50 243.30L351.10 243.29L351.71 243.27L352.31 243.26L352.91 243.24L353.51 243.22L354.11 243.21L354.71 243.19L355.31 243.18L355.91 243.16L356.51 243.15L357.12 243.13L357.72 243.12L358.32 243.10L358.92 243.09L359.52 243.07L360.12 243.06L360.72 243.04L361.32 243.03L361.92 243.01L362.53 243.00L363.13 242.99L363.73 242.97L364.33 242.96L364.93 242.94L365.53 242.93L366.13 242.91L366.73 242.90L367.34 242.88L367.94 242.87L368.54 242.86L369.14 242.84L369.74 242.83L370.34 242.81L370.94 242.80L371.54 242.78L372.14 242.77L372.75 242.75L373.35 242.74L373.95 242.72L374.55 242.71L375.15 242.69L375.75 242.68L376.35 242.66L376.95 242.65L377.55 242.63L378.16 242.62L378.76 242.60L379.36 242.58L379.96 242.57L380.56 242.55L381.16 242.54L381.76 242.52L382.36 242.50L382.96 242.49L383.57 242.47L384.17 242.45L384.77 242.44L385.37 242.42L385.97 242.40L386.57 242.38L387.17 242.36L387.77 242.35L388.37 242.33L388.98 242.31L389.58 242.29L390.18 242.27L390.78 242.25L391.38 242.23L391.98 242.21L392.58 242.19L393.18 242.17L393.78 242.15L394.38 242.13L394.99 242.11L395.59 242.09L396.19 242.07L396.79 242.05L397.39 242.02L397.99 242.00L398.59 241.98L399.19 241.96L399.79 241.93L400.39 241.91L400.99 241.88L401.60 241.86L402.20 241.84L402.80 241.81L403.40 241.78L404.00 241.76L404.60 241.73L405.20 241.71L405.20 241.71"/>
<path stroke="#ff0000" d="M55.8 272.5V250M56.40 272.50L56.40 252.00L55.80 246.00L55.15 200.80L55.40 200.80L55.70 238.00L55.70 238.49L55.71 238.98L55.73 239.47L55.74 239.96L55.76 240.45L55.78 240.94L55.81 241.44L55.84 241.93L55.88 242.43L55.91 242.92L55.95 243.42L55.99 243.91L56.04 244.40L56.09 244.90L56.14 245.39L56.20 245.88L56.27 246.37L56.35 246.86L56.43 247.35L56.52 247.84L56.62 248.32L56.72 248.79L56.84 249.27L56.98 249.75L57.16 250.23L57.37 250.68L57.62 251.10L57.94 251.49L58.35 251.87L58.79 252.18L59.23 252.37L59.63 252.38L60.00 252.20L60.35 251.85L60.68 251.41L60.98 250.93L61.27 250.45L61.55 250.00L61.81 249.56L62.07 249.12L62.31 248.68L62.55 248.25L62.78 247.82L63.00 247.39L63.22 246.96L63.42 246.53L63.62 246.09L63.80 245.65L63.99 245.21L64.16 244.76L64.33 244.31L64.49 243.85L64.65 243.38L64.80 242.92L64.95 242.45L65.10 241.97L65.24 241.49L65.38 241.02L65.52 240.54L65.65 240.05L65.78 239.57L65.92 239.09L66.05 238.60L66.18 238.12L66.31 237.64L66.44 237.16L66.57 236.68L66.69 236.20L66.82 235.72L66.94 235.24L67.07 234.76L67.19 234.28L67.31 233.81L67.44 233.33L67.56 232.85L67.68 232.38L67.81 231.90L67.94 231.42L68.06 230.95L68.19 230.48L68.33 230.00L68.46 229.53L68.60 229.06L68.74 228.58L68.88 228.11L69.02 227.63L69.17 227.15L69.32 226.68L69.48 226.21L69.65 225.74L69.82 225.28L70.01 224.83L70.21 224.38L70.43 223.94L70.66 223.51L70.91 223.08L71.18 222.65L71.48 222.23L71.79 221.83L72.12 221.44L72.46 221.09L72.82 220.76L73.20 220.47L73.60 220.21L74.02 219.99L74.46 219.79L74.92 219.61L75.40 219.44L75.87 219.27L76.35 219.11L76.83 218.94L77.29 218.76L77.76 218.58L78.22 218.38L78.67 218.18L79.12 217.97L79.55 217.74L79.97 217.49L80.37 217.21L80.76 216.91L81.13 216.58L81.49 216.24L81.84 215.88L82.17 215.50L82.48 215.12L82.78 214.74L83.06 214.34L83.33 213.92L83.58 213.50L83.83 213.08L84.08 212.65L84.31 212.21L84.55 211.77L84.78 211.33L85.02 210.90L85.26 210.46L85.50 210.03L85.74 209.60L85.98 209.17L86.23 208.74L86.47 208.31L86.72 207.89L86.97 207.46L87.22 207.04L87.47 206.61L87.72 206.18L87.97 205.76L88.22 205.33L88.47 204.91L88.72 204.48L88.97 204.06L89.22 203.63L89.47 203.21L89.72 202.78L89.97 202.35L90.21 201.92L90.46 201.49L90.70 201.06L90.95 200.63L91.20 200.20L91.45 199.78L91.71 199.35L91.96 198.93L92.22 198.52L92.49 198.10L92.76 197.69L93.04 197.29L93.32 196.89L93.61 196.48L93.90 196.08L94.21 195.68L94.52 195.29L94.85 194.92L95.20 194.57L95.56 194.24L95.95 193.94L96.36 193.66L96.80 193.39L97.27 193.15L97.74 192.96L98.22 192.84L98.68 192.80L99.14 192.87L99.61 193.03L100.07 193.27L100.50 193.58L100.90 193.91L101.26 194.26L101.57 194.61L101.85 195.00L102.11 195.41L102.35 195.84L102.57 196.29L102.77 196.75L102.96 197.22L103.14 197.70L103.32 198.18L103.49 198.65L103.67 199.12L103.84 199.58L104.02 200.04L104.19 200.50L104.37 200.96L104.54 201.42L104.71 201.89L104.88 202.35L105.05 202.81L105.22 203.28L105.39 203.74L105.56 204.20L105.73 204.67L105.90 205.13L106.07 205.59L106.25 206.05L106.42 206.52L106.59 206.98L106.77 207.44L106.94 207.90L107.11 208.36L107.28 208.83L107.45 209.29L107.63 209.75L107.80 210.21L107.97 210.68L108.14 211.14L108.32 211.60L108.49 212.06L108.66 212.52L108.84 212.99L109.02 213.45L109.19 213.91L109.37 214.37L109.55 214.83L109.73 215.29L109.91 215.74L110.10 216.20L110.28 216.66L110.47 217.12L110.65 217.58L110.84 218.03L111.02 218.49L111.21 218.95L111.39 219.41L111.57 219.87L111.74 220.33L111.92 220.79L112.09 221.25L112.26 221.71L112.43 222.18L112.59 222.64L112.75 223.11L112.91 223.58L113.07 224.04L113.23 224.51L113.39 224.98L113.56 225.44L113.72 225.91L113.88 226.37L114.05 226.84L114.22 227.30L114.40 227.76L114.58 228.22L114.76 228.68L114.94 229.14L115.12 229.60L115.31 230.06L115.50 230.51L115.69 230.97L115.89 231.42L116.09 231.87L116.29 232.33L116.49 232.78L116.70 233.22L116.91 233.67L117.12 234.12L117.33 234.56L117.55 235.00L117.77 235.44L117.99 235.88L118.22 236.32L118.45 236.75L118.68 237.19L118.92 237.62L119.16 238.05L119.40 238.48L119.65 238.91L119.90 239.34L120.15 239.76L120.40 240.19L120.65 240.61L120.91 241.03L121.17 241.45L121.43 241.87L121.69 242.29L121.96 242.71L122.22 243.13L122.49 243.54L122.76 243.96L123.03 244.37L123.30 244.79L123.57 245.21L123.85 245.63L124.12 246.04L124.40 246.45L124.69 246.87L124.97 247.27L125.26 247.68L125.56 248.08L125.85 248.48L126.16 248.87L126.46 249.26L126.78 249.64L127.09 250.02L127.42 250.38L127.75 250.74L128.08 251.10L128.43 251.44L128.78 251.78L129.14 252.11L129.51 252.43L129.88 252.74L130.27 253.04L130.67 253.34L131.07 253.63L131.47 253.92L131.89 254.20L132.30 254.48L132.72 254.75L133.14 255.01L133.56 255.27L133.98 255.53L134.40 255.78L134.83 256.04L135.26 256.28L135.69 256.52L136.12 256.76L136.56 256.99L137.00 257.21L137.45 257.43L137.89 257.64L138.34 257.83L138.80 258.02L139.25 258.20L139.71 258.38L140.18 258.55L140.65 258.71L141.12 258.87L141.59 259.02L142.06 259.16L142.54 259.30L143.01 259.43L143.49 259.55L143.97 259.67L144.45 259.78L144.93 259.89L145.41 259.99L145.90 260.10L146.38 260.19L146.87 260.28L147.35 260.37L147.84 260.46L148.32 260.54L148.81 260.62L149.30 260.70L149.79 260.78L150.28 260.85L150.77 260.92L151.26 260.98L151.75 261.03L152.24 261.07L152.73 261.09L153.22 261.11L153.72 261.12L154.21 261.12L154.70 261.12L155.19 261.12L155.69 261.12L156.18 261.11L156.68 261.11L157.17 261.10L157.66 261.10L158.16 261.10L158.65 261.09L159.15 261.08L159.64 261.07L160.14 261.05L160.63 261.03L161.12 261.01L161.61 260.98L162.10 260.94L162.59 260.90L163.08 260.85L163.57 260.78L164.06 260.70L164.54 260.61L165.03 260.51L165.51 260.41L166.00 260.31L166.48 260.22L166.97 260.13L167.45 260.04L167.94 259.97L168.43 259.90L168.92 259.84L169.41 259.78L169.90 259.72L170.39 259.66L170.88 259.59L171.37 259.52L171.85 259.44L172.34 259.35L172.82 259.26L173.31 259.17L173.79 259.07L174.27 258.96L174.76 258.85L175.24 258.74L175.72 258.63L176.20 258.52L176.68 258.40L177.15 258.28L177.63 258.15L178.11 258.02L178.58 257.89L179.06 257.76L179.53 257.62L180.01 257.48L180.48 257.34L180.95 257.19L181.42 257.05L181.89 256.89L182.36 256.74L182.83 256.59L183.29 256.43L183.76 256.27L184.23 256.10L184.69 255.94L185.16 255.77L185.62 255.60L186.08 255.43L186.54 255.25L187.00 255.07L187.46 254.89L187.92 254.71L188.38 254.53L188.84 254.35L189.29 254.16L189.75 253.97L190.20 253.78L190.66 253.58L191.11 253.39L191.56 253.19L192.02 253.00L192.47 252.80L192.92 252.59L193.37 252.39L193.82 252.19L194.26 251.98L194.71 251.77L195.16 251.56L195.60 251.35L196.05 251.14L196.49 250.92L196.94 250.71L197.38 250.49L197.82 250.28L198.27 250.06L198.71 249.84L199.15 249.61L199.59 249.39L200.03 249.17L200.47 248.94L200.91 248.72L201.34 248.49L201.78 248.26L202.22 248.03L202.66 247.80L203.09 247.57L203.53 247.34L203.96 247.11L204.40 246.87L204.83 246.64L205.26 246.40L205.70 246.16L206.13 245.93L206.56 245.69L206.99 245.45L207.42 245.21L207.85 244.97L208.28 244.73L208.71 244.48L209.14 244.24L209.57 244.00L210.00 243.75L210.43 243.51L210.86 243.26L211.29 243.02L211.71 242.77L212.14 242.53L212.57 242.28L212.99 242.03L213.42 241.78L213.85 241.53L214.27 241.29L214.70 241.04L215.13 240.79L215.56 240.55L215.99 240.30L216.41 240.06L216.84 239.82L217.27 239.57L217.70 239.33L218.13 239.09L218.57 238.85L219.00 238.62L219.44 238.39L219.87 238.16L220.31 237.93L220.75 237.70L221.19 237.48L221.63 237.26L222.08 237.05L222.52 236.83L222.97 236.62L223.42 236.42L223.87 236.22L224.32 236.02L224.77 235.82L225.23 235.63L225.68 235.44L226.14 235.26L226.60 235.08L227.06 234.91L227.53 234.74L227.99 234.58L228.46 234.42L228.93 234.26L229.40 234.11L229.87 233.97L230.35 233.83L230.82 233.70L231.30 233.57L231.78 233.45L232.26 233.34L232.74 233.23L233.22 233.12L233.70 233.02L234.19 232.93L234.68 232.85L235.16 232.77L235.65 232.70L236.14 232.64L236.63 232.58L237.12 232.53L237.61 232.48L238.11 232.44L238.60 232.41L239.09 232.38L239.59 232.37L240.08 232.37L240.57 232.37L241.07 232.38L241.56 232.39L242.05 232.41L242.55 232.43L243.04 232.46L243.53 232.49L244.02 232.53L244.51 232.58L245.00 232.64L245.49 232.72L245.98 232.80L246.47 232.88L246.95 232.97L247.44 233.07L247.92 233.17L248.40 233.27L248.88 233.39L249.36 233.51L249.83 233.64L250.31 233.78L250.78 233.91L251.26 234.05L251.73 234.20L252.20 234.34L252.67 234.50L253.14 234.65L253.60 234.81L254.07 234.98L254.54 235.14L255.00 235.31L255.46 235.48L255.93 235.65L256.39 235.82L256.85 236.00L257.31 236.17L257.77 236.35L258.23 236.53L258.69 236.71L259.15 236.89L259.61 237.07L260.07 237.24L260.53 237.42L260.99 237.60L261.45 237.78L261.91 237.96L262.37 238.14L262.83 238.31L263.29 238.49L263.76 238.66L264.22 238.83L264.68 238.99L265.15 239.16L265.61 239.33L266.08 239.49L266.55 239.65L267.01 239.80L267.48 239.95L267.95 240.11L268.42 240.25L268.90 240.40L269.37 240.54L269.84 240.68L270.32 240.82L270.79 240.95L271.27 241.08L271.74 241.21L272.22 241.34L272.70 241.46L273.18 241.58L273.66 241.70L274.14 241.81L274.62 241.93L275.10 242.04L275.58 242.14L276.06 242.25L276.54 242.35L277.03 242.45L277.51 242.55L277.99 242.65L278.48 242.74L278.96 242.83L279.45 242.92L279.93 243.00L280.42 243.09L280.91 243.17L281.40 243.25L281.88 243.32L282.37 243.40L282.86 243.47L283.35 243.54L283.84 243.61L284.32 243.67L284.81 243.73L285.30 243.80L285.79 243.86L286.28 243.91L286.77 243.97L287.26 244.02L287.76 244.07L288.25 244.12L288.74 244.17L289.23 244.21L289.72 244.26L290.21 244.30L290.70 244.34L291.20 244.37L291.69 244.41L292.18 244.44L292.67 244.48L293.17 244.51L293.66 244.54L294.15 244.57L294.64 244.59L295.14 244.62L295.63 244.64L296.12 244.66L296.61 244.68L297.11 244.70L297.60 244.72L298.09 244.73L298.59 244.75L299.08 244.76L299.57 244.77L300.07 244.78L300.56 244.79L301.05 244.80L301.55 244.81L302.04 244.82L302.53 244.82L303.03 244.82L303.52 244.82L304.01 244.83L304.51 244.82L305.00 244.82L305.49 244.82L305.99 244.82L306.48 244.81L306.97 244.81L307.47 244.81L307.96 244.80L308.45 244.79L308.95 244.78L309.44 244.77L309.93 244.76L310.43 244.75L310.92 244.74L311.41 244.73L311.91 244.72L312.40 244.70L312.89 244.69L313.39 244.67L313.88 244.66L314.37 244.64L314.87 244.62L315.36 244.61L315.85 244.59L316.35 244.57L316.84 244.55L317.33 244.53L317.82 244.51L318.32 244.49L318.81 244.47L319.30 244.45L319.80 244.43L320.29 244.41L320.78 244.39L321.28 244.36L321.77 244.34L322.26 244.32L322.75 244.30L323.25 244.27L323.74 244.25L324.23 244.23L324.73 244.21L325.22 244.18L325.71 244.16L326.20 244.14L326.70 244.11L327.19 244.09L327.68 244.07L328.18 244.05L328.67 244.02L329.16 244.00L329.65 243.98L330.15 243.96L330.64 243.93L331.13 243.91L331.63 243.89L332.12 243.87L332.61 243.85L333.10 243.83L333.60 243.81L334.09 243.79L334.58 243.77L335.08 243.75L335.57 243.73L336.06 243.71L336.56 243.69L337.05 243.67L337.54 243.66L338.03 243.64L338.53 243.62L339.02 243.60L339.51 243.59L340.01 243.57L340.50 243.55L340.99 243.54L341.49 243.52L341.98 243.51L342.47 243.49L342.97 243.47L343.46 243.46L343.95 243.44L344.45 243.43L344.94 243.42L345.43 243.40L345.93 243.39L346.42 243.37L346.91 243.36L347.40 243.35L347.90 243.33L348.39 243.32L348.88 243.31L349.38 243.29L349.87 243.28L350.36 243.27L350.86 243.25L351.35 243.24L351.84 243.23L352.34 243.22L352.83 243.21L353.32 243.19L353.82 243.18L354.31 243.17L354.80 243.16L355.30 243.15L355.79 243.14L356.28 243.12L356.78 243.11L357.27 243.10L357.76 243.09L358.26 243.08L358.75 243.07L359.24 243.06L359.74 243.05L360.23 243.04L360.72 243.03L361.22 243.02L361.71 243.01L362.20 242.99L362.70 242.98L363.19 242.97L363.68 242.96L364.18 242.95L364.67 242.94L365.16 242.93L365.66 242.92L366.15 242.91L366.64 242.90L367.14 242.89L367.63 242.88L368.12 242.87L368.62 242.86L369.11 242.85L369.60 242.84L370.10 242.83L370.59 242.82L371.08 242.81L371.57 242.80L372.07 242.79L372.56 242.77L373.05 242.76L373.55 242.75L374.04 242.74L374.53 242.73L375.03 242.72L375.52 242.71L376.01 242.70L376.51 242.69L377.00 242.67L377.49 242.66L377.99 242.65L378.48 242.64L378.97 242.63L379.47 242.62L379.96 242.60L380.45 242.59L380.95 242.58L381.44 242.57L381.93 242.55L382.43 242.54L382.92 242.53L383.41 242.51L383.91 242.50L384.40 242.49L384.89 242.47L385.39 242.46L385.88 242.45L386.37 242.43L386.87 242.42L387.36 242.40L387.85 242.39L388.35 242.37L388.84 242.36L389.33 242.34L389.82 242.33L390.32 242.31L390.81 242.29L391.30 242.28L391.80 242.26L392.29 242.24L392.78 242.23L393.28 242.21L393.77 242.19L394.26 242.17L394.76 242.16L395.25 242.14L395.74 242.12L396.23 242.10L396.73 242.08L397.22 242.06L397.71 242.04L398.21 242.02L398.70 242.00L399.19 241.98L399.69 241.96L400.18 241.94L400.67 241.92L401.16 241.90L401.66 241.87L402.15 241.85L402.64 241.83L403.14 241.80L403.63 241.78L404.12 241.76L404.61 241.73L405.11 241.71L405.60 241.68L405.60 241.68"/>
</g>
<g stroke="#000" stroke-opacity="0.6" stroke-width="0.9" fill="none">
<path d="M47.5 281.5H412.3"/>
<path d="M54.6 285.7V59.9"/>
<path d="M69.92 281.5v-2.6"/>
<path d="M85.24 281.5v-2.6"/>
<path d="M100.56 281.5v-2.6"/>
<path d="M115.88 281.5v-2.6"/>
<path d="M131.20 281.5v-4.3"/>
<path d="M146.52 281.5v-2.6"/>
<path d="M161.84 281.5v-2.6"/>
<path d="M177.16 281.5v-2.6"/>
<path d="M192.48 281.5v-2.6"/>
<path d="M207.80 281.5v-4.3"/>
<path d="M223.12 281.5v-2.6"/>
<path d="M238.44 281.5v-2.6"/>
<path d="M253.76 281.5v-2.6"/>
<path d="M269.08 281.5v-2.6"/>
<path d="M284.40 281.5v-4.3"/>
<path d="M299.72 281.5v-2.6"/>
<path d="M315.04 281.5v-2.6"/>
<path d="M330.36 281.5v-2.6"/>
<path d="M345.68 281.5v-2.6"/>
<path d="M361.00 281.5v-4.3"/>
<path d="M376.32 281.5v-2.6"/>
<path d="M391.64 281.5v-2.6"/>
<path d="M406.96 281.5v-2.6"/>
<path d="M54.6 275.73h2.8"/>
<path d="M54.6 269.96h2.8"/>
<path d="M54.6 264.18h2.8"/>
<path d="M54.6 258.41h2.8"/>
<path d="M54.6 252.64h4.6"/>
<path d="M54.6 246.87h2.8"/>
<path d="M54.6 241.10h2.8"/>
<path d="M54.6 235.32h2.8"/>
<path d="M54.6 229.55h2.8"/>
<path d="M54.6 223.78h4.6"/>
<path d="M54.6 218.01h2.8"/>
<path d="M54.6 212.24h2.8"/>
<path d="M54.6 206.46h2.8"/>
<path d="M54.6 200.69h2.8"/>
<path d="M54.6 194.92h4.6"/>
<path d="M54.6 189.15h2.8"/>
<path d="M54.6 183.38h2.8"/>
<path d="M54.6 177.60h2.8"/>
<path d="M54.6 171.83h2.8"/>
<path d="M54.6 166.06h4.6"/>
<path d="M54.6 160.29h2.8"/>
<path d="M54.6 154.52h2.8"/>
<path d="M54.6 148.74h2.8"/>
<path d="M54.6 142.97h2.8"/>
<path d="M54.6 137.20h4.6"/>
<path d="M54.6 131.43h2.8"/>
<path d="M54.6 125.66h2.8"/>
<path d="M54.6 119.88h2.8"/>
<path d="M54.6 114.11h2.8"/>
<path d="M54.6 108.34h4.6"/>
<path d="M54.6 102.57h2.8"/>
<path d="M54.6 96.80h2.8"/>
<path d="M54.6 91.02h2.8"/>
<path d="M54.6 85.25h2.8"/>
<path d="M54.6 79.48h4.6"/>
<path d="M54.6 73.71h2.8"/>
<path d="M54.6 67.94h2.8"/>
<path d="M54.6 62.16h2.8"/>
</g>
<rect x="228.4" y="29.9" width="147.1" height="147.5" fill="#fff" stroke="#555" stroke-width="0.9"/>
<path d="M235.2 46.6H261.5" stroke="#000000" stroke-width="1.45" fill="none"/>
<path d="M235.2 75.1H261.5" stroke="#800080" stroke-width="1.45" fill="none"/>
<path d="M235.2 103.6H261.5" stroke="#0000ff" stroke-width="1.45" fill="none"/>
<path d="M235.2 132.1H261.5" stroke="#00ff00" stroke-width="1.45" fill="none"/>
<path d="M235.2 160.6H261.5" stroke="#ff0000" stroke-width="1.45" fill="none"/>
</svg>
<div style="position:absolute;left:0;top:0;width:498px;height:312px;will-change:transform">
<div class="t yl" style="top:244.85px;">0.01</div>
<div class="t yl" style="top:215.85px;">0.02</div>
<div class="t yl" style="top:186.85px;">0.03</div>
<div class="t yl" style="top:158.85px;">0.04</div>
<div class="t yl" style="top:129.85px;">0.05</div>
<div class="t yl" style="top:100.85px;">0.06</div>
<div class="t yl" style="top:71.85px;">0.07</div>
<div class="t xl" style="top:287.85px;left:121.00px;">1</div>
<div class="t xl" style="top:287.85px;left:197.60px;">2</div>
<div class="t xl" style="top:287.85px;left:274.20px;">3</div>
<div class="t xl" style="top:287.85px;left:350.80px;">4</div>
<div class="t lg" style="top:40.61px;">Vacuum</div>
<div class="t lg" style="top:68.61px;">T=110 MeV</div>
<div class="t lg" style="top:97.61px;">T= 130 MeV</div>
<div class="t lg" style="top:125.61px;">T=150 MeV</div>
<div class="t lg" style="top:154.61px;">T=170 MeV</div>
<div class="t " style="top:32.85px;left:8.40px;">&#8722;</div>
<div class="t " style="top:32.85px;left:19.00px;">Im</div>
<div class="t " style="top:32.85px;left:41.00px;">&#928;</div>
<div class="t i" style="top:39.00px;left:53.10px;font-size:12px;">V</div>
<div class="t " style="top:32.85px;left:61.90px;">/</div>
<div class="t i" style="top:32.85px;left:67.00px;">&#960;</div>
<div class="t i" style="top:32.85px;left:80.60px;">q</div>
<div class="t " style="top:39.40px;left:88.20px;font-size:12px;">0</div>
<div class="t " style="top:29.20px;left:95.80px;font-size:12px;">2</div>
<div class="t i" style="top:274.85px;left:423.60px;">q</div>
<div class="t " style="top:281.40px;left:431.00px;font-size:12px;">0</div>
<div class="t " style="top:271.70px;left:438.90px;font-size:12px;">2</div>
<div class="t " style="top:274.85px;left:449.70px;">(GeV</div>
<div class="t " style="top:270.20px;left:485.40px;font-size:12px;">2</div>
<div class="t " style="top:274.85px;left:492.60px;">)</div>
</div>
</body></html>
